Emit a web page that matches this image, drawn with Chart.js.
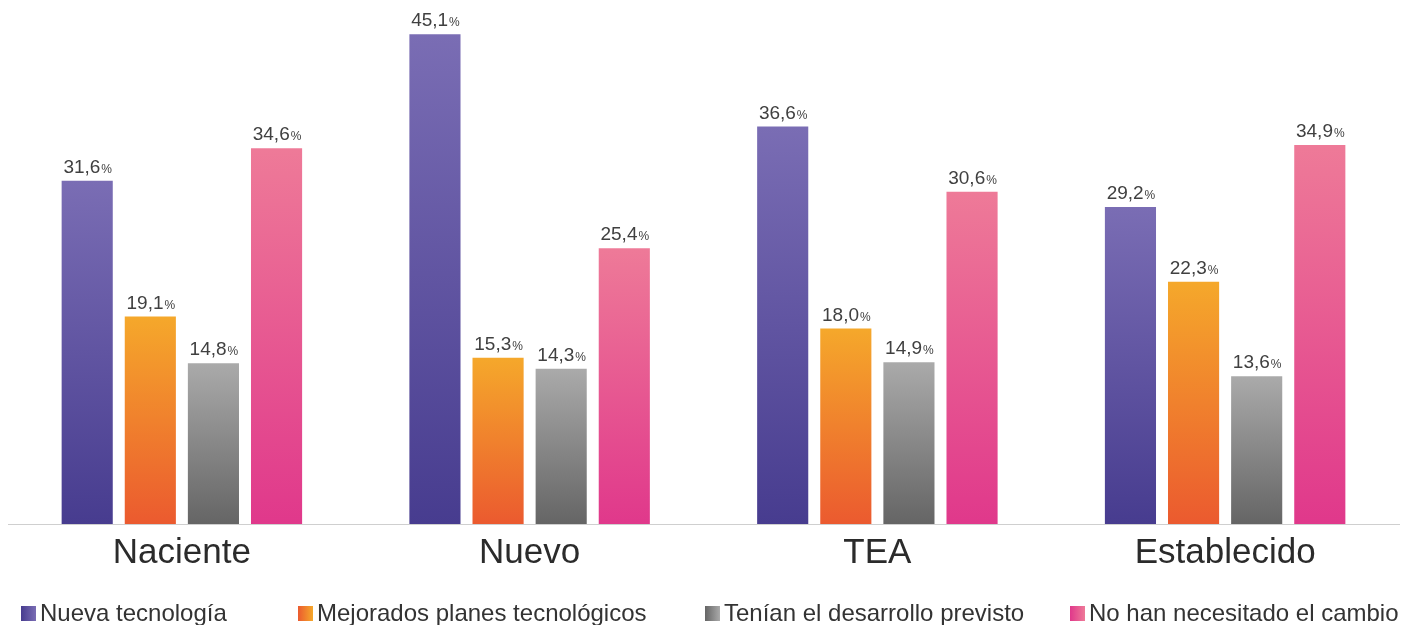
<!DOCTYPE html>
<html>
<head>
<meta charset="utf-8">
<script src="https://cdn.jsdelivr.net/npm/chart.js@4"></script>
<style>
  html, body { margin: 0; padding: 0; background: #fff; }
  #wrap { width: 1414px; height: 625px; position: relative; }
</style>
</head>
<body>
<div id="wrap"><canvas id="valuesChart"></canvas></div>
<script>
const categories = ['Naciente', 'Nuevo', 'TEA', 'Establecido']
const seriesNames = ['Nueva tecnología', 'Mejorados planes tecnológicos', 'Tenían el desarrollo previsto', 'No han necesitado el cambio']
const nuevaTecnologia = [31.6, 45.1, 36.6, 29.2]
const mejoradosPlanes = [19.1, 15.3, 18.0, 22.3]
const desarrolloPrevisto = [14.8, 14.3, 14.9, 13.6]
const noNecesitado = [34.6, 25.4, 30.6, 34.9]

// top / bottom colours of each series gradient
const gradients = [
    ['#7a6db4', '#473c8f'],
    ['#f5a82b', '#eb5a2f'],
    ['#aaaaaa', '#656565'],
    ['#ee7a98', '#e0388b']
]
const legendX = [21, 298, 705, 1070]

function barFill(i) {
    return ctx => {
        const chart = ctx.chart
        const y = chart.scales.y
        if (ctx.type !== 'data' || !y) return gradients[i][1]
        const top = y.getPixelForValue(ctx.raw)
        const bottom = y.getPixelForValue(0)
        if (!isFinite(top) || !isFinite(bottom)) return gradients[i][1]
        const g = chart.ctx.createLinearGradient(0, top, 0, bottom)
        g.addColorStop(0, gradients[i][0])
        g.addColorStop(1, gradients[i][1])
        return g
    }
}

const valueLabels = {
    id: 'valueLabels',
    afterDatasetsDraw(chart) {
        const c = chart.ctx
        c.save()
        c.fillStyle = '#404040'
        c.textBaseline = 'alphabetic'
        c.textAlign = 'left'
        chart.data.datasets.forEach((ds, i) => {
            chart.getDatasetMeta(i).data.forEach((bar, j) => {
                const num = ds.data[j].toFixed(1).replace('.', ',')
                c.font = '19px "Liberation Sans", Arial, sans-serif'
                const w1 = c.measureText(num).width
                c.font = '12px "Liberation Sans", Arial, sans-serif'
                const w2 = c.measureText('%').width
                const x0 = bar.x - (w1 + w2) / 2
                const yb = bar.y - 8
                c.font = '19px "Liberation Sans", Arial, sans-serif'
                c.fillText(num, x0, yb)
                c.font = '12px "Liberation Sans", Arial, sans-serif'
                c.fillText('%', x0 + w1 + 1, yb)
            })
        })
        c.restore()
    }
}

const bottomLegend = {
    id: 'bottomLegend',
    afterDraw(chart) {
        const c = chart.ctx
        c.save()
        chart.data.datasets.forEach((ds, i) => {
            const x = legendX[i]
            const g = c.createLinearGradient(x, 0, x + 15, 0)
            g.addColorStop(0, gradients[i][1])
            g.addColorStop(1, gradients[i][0])
            c.fillStyle = g
            c.fillRect(x, 606, 15, 15)
            c.fillStyle = '#333333'
            c.font = '24px "Liberation Sans", Arial, sans-serif'
            c.textBaseline = 'alphabetic'
            c.fillText(ds.label, x + 19, 621)
        })
        c.restore()
    }
}

const ctx = document.getElementById('valuesChart')

new Chart(ctx, {
    type: 'bar',
    data: {
        labels: categories,
        datasets: [nuevaTecnologia, mejoradosPlanes, desarrolloPrevisto, noNecesitado].map((d, i) => ({
            label: seriesNames[i],
            data: d,
            backgroundColor: barFill(i),
            borderWidth: 0,
            categoryPercentage: 0.726,
            barPercentage: 0.81
        }))
    },
    options: {
        responsive: true,
        maintainAspectRatio: false,
        animation: false,
        layout: { padding: { top: 0, left: 8, right: 15, bottom: 43 } },
        plugins: {
            legend: { display: false },
            tooltip: { enabled: false }
        },
        scales: {
            x: {
                grid: { display: false, drawTicks: false },
                border: { display: true, color: '#cfcfcf', width: 1 },
                ticks: {
                    color: '#2b2b2b',
                    padding: 8,
                    font: { family: '"Liberation Sans", Arial, sans-serif', size: 35 }
                }
            },
            y: {
                display: false,
                min: 0,
                max: 48.25
            }
        }
    },
    plugins: [valueLabels, bottomLegend]
})
</script>
</body>
</html>
